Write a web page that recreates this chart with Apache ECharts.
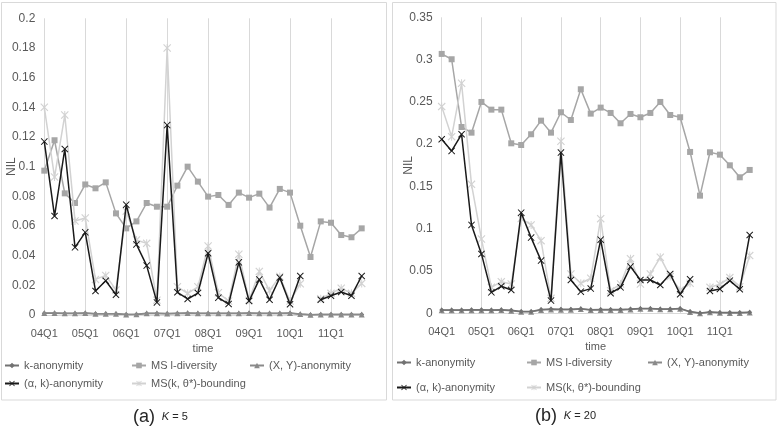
<!DOCTYPE html>
<html><head><meta charset="utf-8">
<script src="https://cdn.jsdelivr.net/npm/echarts@6/dist/echarts.min.js"></script>
<style>html,body{margin:0;padding:0;background:#fff}#c{width:778px;height:426px}</style>
</head><body><div id="c"></div>
<script>
// ---------- data ----------
const quarters = ['04Q1','04Q2','04Q3','04Q4','05Q1','05Q2','05Q3','05Q4','06Q1','06Q2','06Q3','06Q4',
  '07Q1','07Q2','07Q3','07Q4','08Q1','08Q2','08Q3','08Q4','09Q1','09Q2','09Q3','09Q4',
  '10Q1','10Q2','10Q3','10Q4','11Q1','11Q2','11Q3','11Q4'];
const seriesNames = ['k-anonymity','MS l-diversity','(X, Y)-anonymity','(α, k)-anonymity','MS(k, θ*)-bounding'];

// panel (a) K = 5
const kAnon5 = [0.0011,0.0011,0.0010,0.0010,0.0011,0.0008,0.0008,0.0008,0.0004,0.0004,0.0010,0.0010,0.0009,0.0010,0.0011,0.0010,0.0010,0.0010,0.0010,0.0010,0.0011,0.0010,0.0010,0.0010,0.0011,0.0005,0.0002,0.0003,0.0003,0.0003,0.0003,0.0003];
const lDiv5  = [0.0973,0.1178,0.0820,0.0755,0.0880,0.0854,0.0894,0.0685,0.0584,0.0631,0.0755,0.0730,0.0730,0.0872,0.1000,0.0899,0.0798,0.0809,0.0742,0.0825,0.0791,0.0818,0.0724,0.0850,0.0825,0.0602,0.0391,0.0631,0.0622,0.0539,0.0524,0.0584];
const xy5    = [0.0013,0.0013,0.0012,0.0012,0.0013,0.0009,0.0009,0.0009,0.0004,0.0005,0.0012,0.0012,0.0010,0.0012,0.0013,0.0011,0.0011,0.0012,0.0012,0.0012,0.0013,0.0012,0.0012,0.0012,0.0013,0.0006,0.0002,0.0004,0.0004,0.0004,0.0004,0.0004];
const ak5    = [0.1169,0.0667,0.1119,0.0456,0.0557,0.0162,0.0231,0.0137,0.0744,0.0476,0.0333,0.0085,0.1280,0.0153,0.0108,0.0148,0.0416,0.0117,0.0074,0.0355,0.0094,0.0240,0.0103,0.0252,0.0072,0.0263,null,0.0103,0.0130,0.0155,0.0130,0.0263];
const bound5 = [0.1400,0.0930,0.1348,0.0634,0.0654,0.0240,0.0267,0.0169,0.0700,0.0506,0.0483,0.0100,0.1800,0.0190,0.0146,0.0190,0.0465,0.0150,0.0094,0.0410,0.0100,0.0294,0.0164,0.0260,0.0094,0.0210,null,0.0110,0.0146,0.0180,0.0146,0.0213];

// panel (b) K = 20
const kAnon20 = [0.0040,0.0040,0.0040,0.0042,0.0042,0.0040,0.0043,0.0035,0.0022,0.0022,0.0045,0.0050,0.0047,0.0047,0.0055,0.0043,0.0045,0.0045,0.0045,0.0050,0.0058,0.0058,0.0052,0.0052,0.0058,0.0020,0.0004,0.0016,0.0010,0.0008,0.0008,0.0012];
const lDiv20  = [0.3067,0.3004,0.2203,0.2136,0.2499,0.2408,0.2408,0.2010,0.1990,0.2117,0.2278,0.2136,0.2377,0.2286,0.2649,0.2361,0.2432,0.2369,0.2247,0.2357,0.2318,0.2369,0.2499,0.2345,0.2318,0.1908,0.1391,0.1904,0.1876,0.1750,0.1608,0.1695];
const xy20    = [0.0035,0.0035,0.0035,0.0037,0.0037,0.0035,0.0038,0.0030,0.0018,0.0018,0.0040,0.0045,0.0042,0.0042,0.0050,0.0038,0.0040,0.0040,0.0040,0.0045,0.0053,0.0053,0.0047,0.0047,0.0053,0.0016,0.0002,0.0012,0.0007,0.0005,0.0005,0.0009];
const ak20    = [0.2058,0.1920,0.2117,0.1045,0.0702,0.0248,0.0319,0.0276,0.1190,0.0895,0.0623,0.0150,0.1900,0.0394,0.0256,0.0292,0.0871,0.0237,0.0307,0.0552,0.0394,0.0394,0.0335,0.0465,0.0225,0.0402,null,0.0264,0.0288,0.0386,0.0284,0.0926];
const bound20 = [0.2444,0.2089,0.2720,0.1525,0.0879,0.0307,0.0374,0.0347,0.1120,0.1045,0.0859,0.0177,0.2034,0.0465,0.0355,0.0414,0.1119,0.0268,0.0347,0.0646,0.0347,0.0465,0.0662,0.0434,0.0276,0.0355,null,0.0307,0.0343,0.0422,0.0315,0.0682];

// axis ranges
const yMax5 = 0.2, yStep5 = 0.02;
const yMax20 = 0.35, yStep20 = 0.05;
const xAxisTitle = 'time', yAxisTitle = 'NIL';
const captions = [['(a)', '5'], ['(b)', '20']];

// ---------- styles ----------
const FONT = '"Liberation Sans", Arial, sans-serif';
const TXT = '#595959';
const XSYM = 'path://M0,1L1,0L5,4L9,0L10,1L6,5L10,9L9,10L5,6L1,10L0,9L4,5Z';
const ASYM = 'path://M0,1L1,0L5,4L9,0L10,1L6,5L10,9L9,10L5,6L1,10L0,9L4,5ZM4.4,0L5.6,0L5.6,10L4.4,10Z';
const sty = [
  {color:'#727272', symbol:'diamond', size:5, width:1.5},
  {color:'#a6a6a6', symbol:'rect', size:6, width:1.5},
  {color:'#8a8a8a', symbol:'triangle', size:6, width:1.5},
  {color:'#1a1a1a', symbol:XSYM, size:7, width:1.5},
  {color:'#d2d2d2', symbol:ASYM, size:8, width:1.5}
];

const panels = [
  {data:[kAnon5,lDiv5,xy5,ak5,bound5], yMax:yMax5, yStep:yStep5, grid:{left:44.3, top:18.3, width:317.4, height:296.7}, z:[2,2,3,5,4]},
  {data:[kAnon20,lDiv20,xy20,ak20,bound20], yMax:yMax20, yStep:yStep20, grid:{left:441.7, top:17.3, width:308, height:296}, z:[3,2,2,5,4]}
];

const option = {
  animation:false,
  backgroundColor:'#fff',
  textStyle:{fontFamily:FONT},
  grid: panels.map(p => p.grid),
  xAxis: panels.map((p,i) => ({
    type:'category', gridIndex:i, data:quarters, boundaryGap:false,
    name:xAxisTitle, nameLocation:'middle', nameGap:28, nameMoveOverlap:false,
    nameTextStyle:{color:TXT, fontSize:11, fontFamily:FONT},
    axisLine:{show:true, lineStyle:{color:'#d9d9d9'}},
    axisTick:{show:false},
    axisLabel:{interval:3, color:TXT, fontSize:11, margin:13, fontFamily:FONT},
    splitLine:{show:true, interval:3, lineStyle:{color:'#d9d9d9', width:1}}
  })),
  yAxis: panels.map((p,i) => ({
    type:'value', gridIndex:i, min:0, max:p.yMax, interval:p.yStep,
    name:yAxisTitle, nameLocation:'middle', nameGap:27, nameMoveOverlap:false,
    nameTextStyle:{color:TXT, fontSize:12, fontFamily:FONT},
    axisLine:{show:false}, axisTick:{show:false},
    axisLabel:{color:TXT, fontSize:12, margin:9, fontFamily:FONT},
    splitLine:{show:false}
  })),
  series: [],
  legend: [],
  graphic: []
};

panels.forEach((p,pi) => {
  p.data.forEach((vals,si) => {
    const s = sty[si];
    option.series.push({
      type:'line', name:seriesNames[si], xAxisIndex:pi, yAxisIndex:pi,
      data:vals, z:p.z[si], connectNulls:false,
      symbol:s.symbol, symbolSize:s.size, showSymbol:true, showAllSymbol:true,
      lineStyle:{color:s.color, width:s.width},
      itemStyle:{color:s.color, borderWidth:0}
    });
  });
});

// legend layout (positions only)
const legendPos = [
  [[4,360],[131,360],[249,360],[4,378],[131,378]],
  [[396,357],[526,357],[647,357],[396,382],[526,382]]
];
legendPos.forEach(panel => panel.forEach((pos,si) => {
  option.legend.push({
    data:[seriesNames[si]], left:pos[0], top:pos[1], padding:0,
    itemWidth:14, itemHeight:7, selectedMode:false,
    textStyle:{color:TXT, fontSize:11, fontFamily:FONT}
  });
}));

// panel frames and captions
const frames = [[1.5,2.5,385,397.5],[392.5,2.5,383.5,397.5]];
frames.forEach(f => option.graphic.push({type:'rect', shape:{x:f[0], y:f[1], width:f[2], height:f[3]}, style:{fill:'none', stroke:'#d9d9d9', lineWidth:1}, silent:true}));
const capPos = [[133,408],[535,407]];
captions.forEach((c,i) => {
  option.graphic.push({type:'text', left:capPos[i][0], top:capPos[i][1], silent:true,
    style:{text:'{p|' + c[0] + '}  {k|K} {n|= ' + c[1] + '}', fill:'#262626',
      rich:{p:{fontSize:18, fontFamily:FONT, fill:'#262626'}, k:{fontSize:11, fontStyle:'italic', fontFamily:FONT, fill:'#262626'}, n:{fontSize:11, fontFamily:FONT, fill:'#262626'}}}});
});

const chart = echarts.init(document.getElementById('c'), null, {renderer:'canvas'});
chart.setOption(option);
</script>
</body></html>
